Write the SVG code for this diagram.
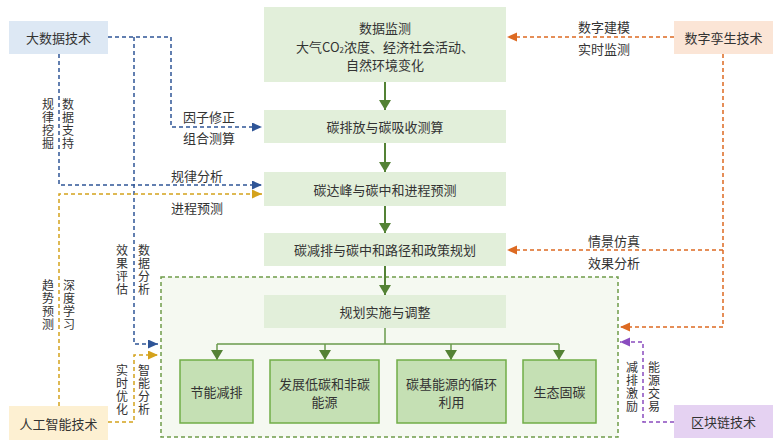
<svg xmlns="http://www.w3.org/2000/svg" width="782" height="448" viewBox="0 0 782 448">
<defs>
<style>
text{font-family:"Noto Sans CJK SC","Noto Sans",sans-serif;font-size:13px;fill:#333;}
.c{text-anchor:middle;dominant-baseline:central;}
.v{text-anchor:middle;dominant-baseline:central;font-size:12px;}
.main{fill:#e2efda;}
.leaf{fill:#c5e0b4;stroke:#70ad47;stroke-width:1.5;}
.d{fill:none;stroke-width:1.5;stroke-dasharray:4 3;}
.blue{stroke:#2f5597;}
.gold{stroke:#d4a21c;}
.orange{stroke:#dd6a22;}
.purple{stroke:#8a4cbf;}
.g{fill:none;stroke:#548235;stroke-width:2;}
.t{fill:none;stroke:#6a9a4c;stroke-width:1.5;}
</style>
<marker id="ab" markerUnits="userSpaceOnUse" markerWidth="12" markerHeight="10" refX="10" refY="4.5" orient="auto"><path d="M0,0 L10,4.5 L0,9 Z" fill="#2f5597"/></marker>
<marker id="ag" markerUnits="userSpaceOnUse" markerWidth="12" markerHeight="10" refX="10" refY="4.5" orient="auto"><path d="M0,0 L10,4.5 L0,9 Z" fill="#d4a21c"/></marker>
<marker id="ao" markerUnits="userSpaceOnUse" markerWidth="12" markerHeight="10" refX="10" refY="4.5" orient="auto"><path d="M0,0 L10,4.5 L0,9 Z" fill="#dd6a22"/></marker>
<marker id="ap" markerUnits="userSpaceOnUse" markerWidth="12" markerHeight="10" refX="10" refY="4.5" orient="auto"><path d="M0,0 L10,4.5 L0,9 Z" fill="#8a4cbf"/></marker>
<marker id="agr" markerUnits="userSpaceOnUse" markerWidth="12" markerHeight="14" refX="10" refY="6" orient="auto"><path d="M0,0 L10,6 L0,12 Z" fill="#548235"/></marker>
</defs>

<g id="container">
<rect x="161" y="277" width="457" height="160" fill="#f5f9f1" stroke="#6f9c4a" stroke-width="1.5" stroke-dasharray="4 3"/>
</g>

<g id="connectors">
<path class="d blue" d="M108,37 H171 V127 H262" marker-end="url(#ab)"/>
<path class="d blue" d="M134,37 V344 H158" marker-end="url(#ab)"/>
<path class="d blue" d="M59,54 V185 H262" marker-end="url(#ab)"/>
<path class="d gold" d="M59,406 V194 H262" marker-end="url(#ag)"/>
<path class="d gold" d="M108,422 H134 V355 H158" marker-end="url(#ag)"/>
<path class="d orange" d="M674,37 H507" marker-end="url(#ao)"/>
<path class="d orange" d="M723,54 V327 H620" marker-end="url(#ao)"/>
<path class="d orange" d="M723,250 H507" marker-end="url(#ao)"/>
<path class="d purple" d="M674,422 H643 V342 H620" marker-end="url(#ap)"/>
<path class="g" d="M385,82 V110" marker-end="url(#agr)"/>
<path class="g" d="M385,143 V172" marker-end="url(#agr)"/>
<path class="g" d="M385,206 V233" marker-end="url(#agr)"/>
<path class="g" d="M385,266 V295" marker-end="url(#agr)"/>
<path class="t" d="M385,328 V344 M217,344 H559"/>
<path class="t" d="M217,344 V360" marker-end="url(#agr)"/>
<path class="t" d="M325,344 V360" marker-end="url(#agr)"/>
<path class="t" d="M451,344 V360" marker-end="url(#agr)"/>
<path class="t" d="M559,344 V360" marker-end="url(#agr)"/>
</g>

<g id="labels">
<text class="c" x="209" y="116">因子修正</text>
<text class="c" x="209" y="137">组合测算</text>
<text class="c" x="197" y="175">规律分析</text>
<text class="c" x="197" y="207">进程预测</text>
<text class="c" x="604" y="26">数字建模</text>
<text class="c" x="604" y="48">实时监测</text>
<text class="c" x="614" y="240">情景仿真</text>
<text class="c" x="614" y="262">效果分析</text>
<text class="v" x="48" y="103">规</text><text class="v" x="48" y="116">律</text><text class="v" x="48" y="129">挖</text><text class="v" x="48" y="142">掘</text>
<text class="v" x="68" y="103">数</text><text class="v" x="68" y="116">据</text><text class="v" x="68" y="129">支</text><text class="v" x="68" y="142">持</text>
<text class="v" x="122" y="249">效</text><text class="v" x="122" y="262">果</text><text class="v" x="122" y="275">评</text><text class="v" x="122" y="288">估</text>
<text class="v" x="144" y="249">数</text><text class="v" x="144" y="262">据</text><text class="v" x="144" y="275">分</text><text class="v" x="144" y="288">析</text>
<text class="v" x="48" y="284">趋</text><text class="v" x="48" y="297">势</text><text class="v" x="48" y="310">预</text><text class="v" x="48" y="323">测</text>
<text class="v" x="69" y="284">深</text><text class="v" x="69" y="297">度</text><text class="v" x="69" y="310">学</text><text class="v" x="69" y="323">习</text>
<text class="v" x="122" y="369">实</text><text class="v" x="122" y="382">时</text><text class="v" x="122" y="395">优</text><text class="v" x="122" y="408">化</text>
<text class="v" x="144" y="369">智</text><text class="v" x="144" y="382">能</text><text class="v" x="144" y="395">分</text><text class="v" x="144" y="408">析</text>
<text class="v" x="632" y="366">减</text><text class="v" x="632" y="379">排</text><text class="v" x="632" y="392">激</text><text class="v" x="632" y="405">励</text>
<text class="v" x="654" y="366">能</text><text class="v" x="654" y="379">源</text><text class="v" x="654" y="392">交</text><text class="v" x="654" y="405">易</text>
</g>

<g id="bigdata"><rect x="9" y="21" width="99" height="33" fill="#dde8f4"/><text class="c" x="58.5" y="37.5">大数据技术</text></g>
<g id="ai"><rect x="9" y="406" width="99" height="34" fill="#fdf0d2"/><text class="c" x="58.5" y="423">人工智能技术</text></g>
<g id="twin"><rect x="674" y="21" width="99" height="33" fill="#fbe5d6"/><text class="c" x="723.5" y="37.5">数字孪生技术</text></g>
<g id="blockchain"><rect x="674" y="405" width="99" height="33" fill="#e5d2f2"/><text class="c" x="723.5" y="421.5">区块链技术</text></g>

<g id="monitor"><rect class="main" x="264" y="7" width="242" height="75"/>
<text class="c" x="385" y="27">数据监测</text>
<text class="c" x="385" y="46">大气CO<tspan font-size="8" dy="3">2</tspan><tspan dy="-3">浓度、经济社会活动、</tspan></text>
<text class="c" x="385" y="64">自然环境变化</text></g>
<g id="calc"><rect class="main" x="264" y="110" width="242" height="33"/><text class="c" x="385" y="126.5">碳排放与碳吸收测算</text></g>
<g id="predict"><rect class="main" x="264" y="172" width="242" height="34"/><text class="c" x="385" y="189">碳达峰与碳中和进程预测</text></g>
<g id="plan"><rect class="main" x="264" y="233" width="242" height="33"/><text class="c" x="385" y="249.5">碳减排与碳中和路径和政策规划</text></g>
<g id="implement"><rect class="main" x="264" y="295" width="242" height="33"/><text class="c" x="385" y="311.5">规划实施与调整</text></g>

<g id="leaf1"><rect class="leaf" x="180" y="360" width="73" height="63"/><text class="c" x="216.5" y="391.5">节能减排</text></g>
<g id="leaf2"><rect class="leaf" x="270" y="360" width="109" height="63"/><text class="c" x="324.5" y="383">发展低碳和非碳</text><text class="c" x="324.5" y="401">能源</text></g>
<g id="leaf3"><rect class="leaf" x="397" y="360" width="109" height="63"/><text class="c" x="451.5" y="383">碳基能源的循环</text><text class="c" x="451.5" y="401">利用</text></g>
<g id="leaf4"><rect class="leaf" x="523" y="360" width="73" height="63"/><text class="c" x="559.5" y="391.5">生态固碳</text></g>
</svg>
